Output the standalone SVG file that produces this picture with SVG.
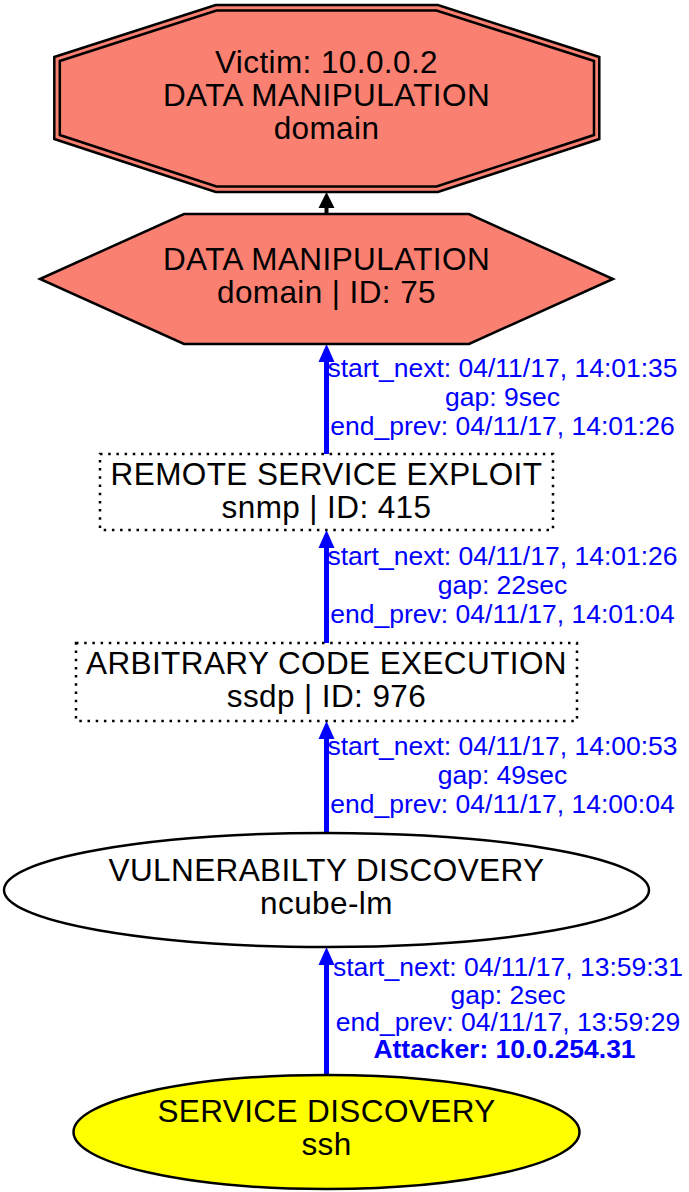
<svg xmlns="http://www.w3.org/2000/svg" width="689" height="1192" viewBox="0 0 689 1192">
<style>
.node text{font-family:"Liberation Sans",Arial,sans-serif;font-size:31.5px;letter-spacing:0.4px;fill:#000;text-anchor:middle}
.salmon{fill:#FA8072;stroke:#000;stroke-width:2.5}
.dotted{fill:none;stroke:#000;stroke-width:2.5;stroke-dasharray:2.5 5.7}
.lbl{font-family:"Liberation Sans",Arial,sans-serif;font-size:26.5px;fill:#0000FF;text-anchor:middle}
.blue{stroke:#0000FF;stroke-width:5;fill:none}
.black{stroke:#000;stroke-width:4;fill:none}
</style>
<defs>
<marker id="ab" markerUnits="userSpaceOnUse" markerWidth="18" markerHeight="16" refX="0" refY="8" orient="auto" overflow="visible">
<path d="M0,0 L18,8 L0,16 z" fill="#0000FF"/>
</marker>
<marker id="ak" markerUnits="userSpaceOnUse" markerWidth="16" markerHeight="16" refX="0" refY="8" orient="auto" overflow="visible">
<path d="M0,0 L16,8 L0,16 z" fill="#000"/>
</marker>
</defs>
<rect width="689" height="1192" fill="#fff"/>
<g id="connectors">
<path class="black" d="M326.5,214 L326.5,208" marker-end="url(#ak)"/>
<path class="blue" d="M326.5,454 L326.5,362" marker-end="url(#ab)"/>
<path class="blue" d="M326.5,643 L326.5,548" marker-end="url(#ab)"/>
<path class="blue" d="M326.5,833 L326.5,739" marker-end="url(#ab)"/>
<path class="blue" d="M326.5,1075 L326.5,965" marker-end="url(#ab)"/>
<text class="lbl" x="502.5" y="377">start_next: 04/11/17, 14:01:35</text>
<text class="lbl" x="502.5" y="406">gap: 9sec</text>
<text class="lbl" x="502.5" y="435">end_prev: 04/11/17, 14:01:26</text>
<text class="lbl" x="502.5" y="565">start_next: 04/11/17, 14:01:26</text>
<text class="lbl" x="502.5" y="594">gap: 22sec</text>
<text class="lbl" x="502.5" y="623">end_prev: 04/11/17, 14:01:04</text>
<text class="lbl" x="502.5" y="755">start_next: 04/11/17, 14:00:53</text>
<text class="lbl" x="502.5" y="784">gap: 49sec</text>
<text class="lbl" x="502.5" y="813">end_prev: 04/11/17, 14:00:04</text>
<text class="lbl" x="508" y="976">start_next: 04/11/17, 13:59:31</text>
<text class="lbl" x="508" y="1003.5">gap: 2sec</text>
<text class="lbl" x="508" y="1031">end_prev: 04/11/17, 13:59:29</text>
<text class="lbl" x="504.5" y="1058" font-weight="bold">Attacker: 10.0.254.31</text>
</g>
<g id="victim" class="node">
<polygon class="salmon" points="215.7,5 437.9,5 599.3,57 599.3,139 437.9,192 215.7,192 54.3,139 54.3,57"/>
<polygon class="salmon" points="216.5,10.5 436.5,10.5 594,61 594,135 436.5,186.5 216.5,186.5 59.8,135 59.8,61"/>
<text x="326.5" y="73">Victim: 10.0.0.2</text>
<text x="326.5" y="106">DATA MANIPULATION</text>
<text x="326.5" y="139">domain</text>
</g>
<g id="n75" class="node">
<polygon class="salmon" points="40,279 184,214 469,214 613,279 469,344 184,344"/>
<text x="326.5" y="270">DATA MANIPULATION</text>
<text x="326.5" y="303">domain | ID: 75</text>
</g>
<g id="n415" class="node">
<rect class="dotted" x="100" y="454" width="453" height="76"/>
<text x="326.5" y="485">REMOTE SERVICE EXPLOIT</text>
<text x="326.5" y="517.5">snmp | ID: 415</text>
</g>
<g id="n976" class="node">
<rect class="dotted" x="76" y="643" width="501" height="78"/>
<text x="326.5" y="674">ARBITRARY CODE EXECUTION</text>
<text x="326.5" y="706.5">ssdp | ID: 976</text>
</g>
<g id="vuln" class="node">
<ellipse cx="326.5" cy="890" rx="322.5" ry="57" fill="#fff" stroke="#000" stroke-width="2.5"/>
<text x="326.5" y="881">VULNERABILTY DISCOVERY</text>
<text x="326.5" y="914">ncube-lm</text>
</g>
<g id="service" class="node">
<ellipse cx="326.5" cy="1132" rx="253" ry="57" fill="#FFFF00" stroke="#000" stroke-width="2.5"/>
<text x="326.5" y="1121.5">SERVICE DISCOVERY</text>
<text x="326.5" y="1154.5">ssh</text>
</g>
</svg>
